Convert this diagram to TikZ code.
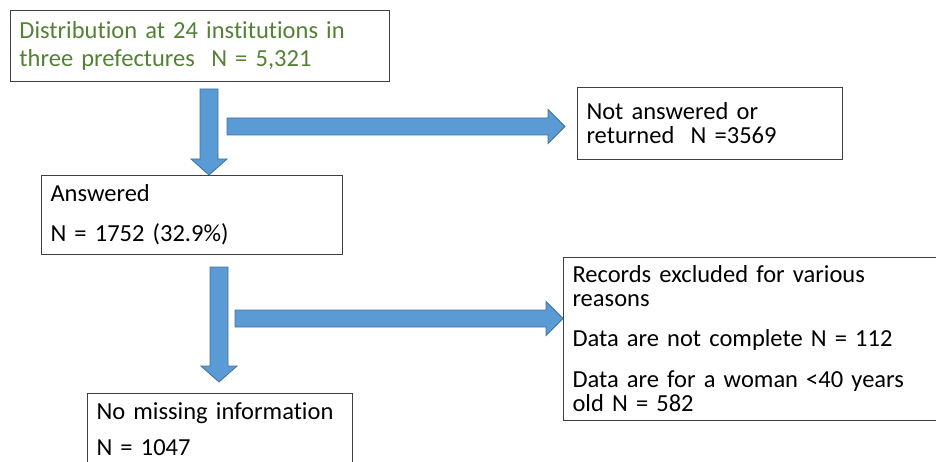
\documentclass[tikz,border=0pt]{standalone}
\usepackage{fontspec}
\setmainfont{Carlito}[Ligatures=NoCommon]
\usetikzlibrary{calc}

\newlength{\du}
\setlength{\du}{1pt}

\definecolor{boxgreen}{HTML}{548235}
\definecolor{arrowfill}{HTML}{5B9BD5}
\definecolor{arrowline}{HTML}{41719C}

\tikzset{
  flowbox/.style={draw=black!75, line width=1\du, fill=white, anchor=north west,
    align=left, inner xsep=9\du, inner ysep=4\du,
    font=\fontsize{24.5\du}{24\du}\selectfont},
  blockarrow/.style={fill=arrowfill, draw=arrowline, line width=0.8\du, line join=miter},
}

% block arrow pointing down, from #1 to the tip #2
\newcommand{\downblock}[2]{%
  \draw[blockarrow] let \p1=(#1), \p2=(#2) in
    (\x2-9\du,\y1) -- (\x2+9\du,\y1) -- (\x2+9\du,\y2+16\du) -- (\x2+18\du,\y2+16\du)
    -- (\x2,\y2) -- (\x2-18\du,\y2+16\du) -- (\x2-9\du,\y2+16\du) -- cycle;}
% block arrow pointing right, from #1 to the tip #2
\newcommand{\rightblock}[2]{%
  \draw[blockarrow] let \p1=(#1), \p2=(#2) in
    (\x1,\y2+8.5\du) -- (\x2-17\du,\y2+8.5\du) -- (\x2-17\du,\y2+17\du) -- (\x2,\y2)
    -- (\x2-17\du,\y2-17\du) -- (\x2-17\du,\y2-8.5\du) -- (\x1,\y2-8.5\du) -- cycle;}

\begin{document}
\begin{tikzpicture}[x=1\du,y=-1\du]
\useasboundingbox (0,0) rectangle (936,462);
\clip (0,0) rectangle (936,462);

% boxes
\node[flowbox, text=boxgreen, text width=361\du, minimum height=71\du,
  font=\fontsize{24.5\du}{28\du}\selectfont] (dist) at (10,10)
  {Distribution at 24 institutions in\\three prefectures\ \ N = 5,321};
\node[flowbox, text width=247\du, minimum height=72\du] (noans) at (577,87)
  {Not answered or\\returned\ \ N =3569};
\node[flowbox, text width=283\du, minimum height=79\du] (answ) at (41,175)
  {Answered\\[16\du]N = 1752 (32.9\%)};
\node[flowbox, text width=382\du, minimum height=163\du] (excl) at (563,257)
  {Records excluded for various\\reasons\\[16\du]Data are not complete N = 112\\[17\du]Data are for a woman <40 years\\old N = 582};
\node[flowbox, text width=247\du, minimum height=72\du] (nomiss) at (87,393)
  {No missing information\\[12\du]N = 1047};

% connectors
\coordinate (d1top) at (209,89);
\coordinate (r1start) at (227,126.5);
\coordinate (d2top) at (219,267);
\coordinate (r2start) at (235,318.5);
\downblock{d1top}{d1top |- answ.north}
\rightblock{r1start}{[xshift=-12\du]noans.west |- r1start}
\downblock{d2top}{[yshift=11\du]d2top |- nomiss.north}
\rightblock{r2start}{excl.west |- r2start}
\end{tikzpicture}
\end{document}
